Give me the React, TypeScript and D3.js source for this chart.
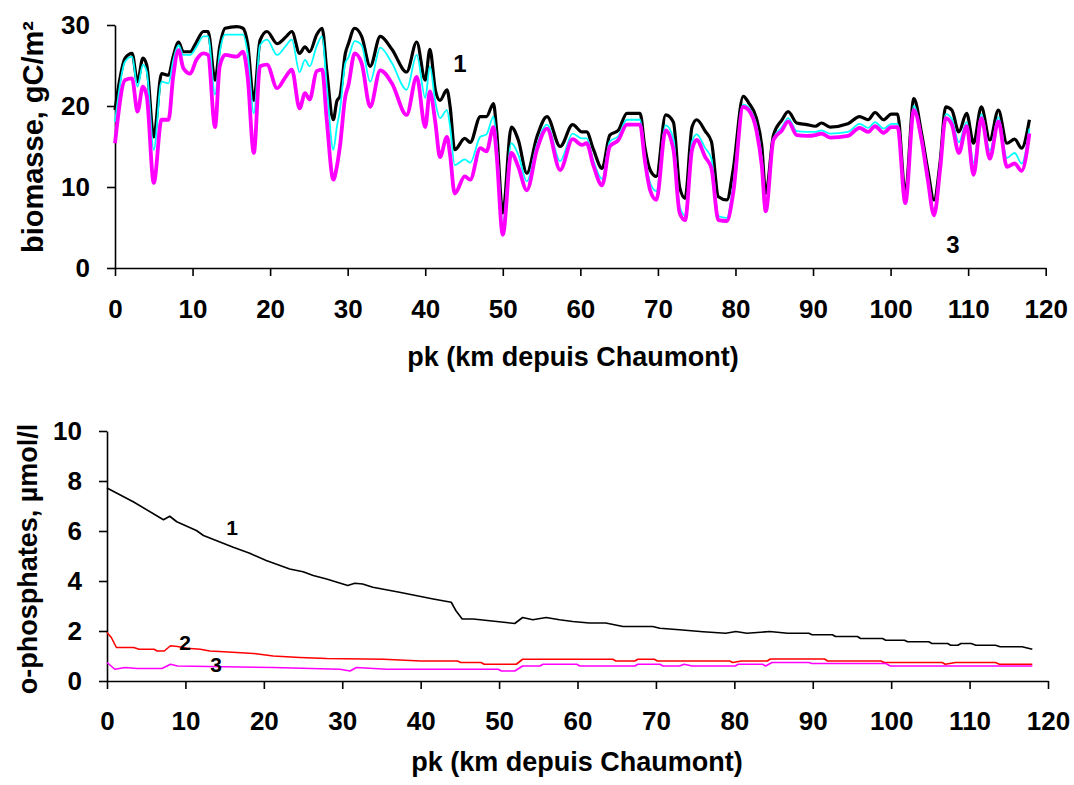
import React, { useEffect, useRef } from 'react';
import * as d3 from 'd3';

// ---------- Top chart: biomasse (gC/m²) along pk ----------
const topKm = [
  0, 1.3, 2.2, 2.9, 3.6, 4.1, 5.0, 6.0, 6.9, 7.5,
  8.2, 8.8, 9.7, 10.5, 11.4, 12.0, 12.9, 13.5, 14.2, 15.7,
  16.5, 17.1, 17.9, 18.7, 19.6, 20.9, 22.0, 22.8, 23.8, 24.5,
  25.1, 26.0, 26.7, 27.3, 28.15, 28.6, 29.0, 29.7, 30.1, 30.9,
  31.8, 32.9, 34.2, 35.7, 37.6, 38.9, 40.0, 40.6, 41.3, 41.9,
  42.8, 43.2, 43.8, 45.1, 45.8, 47.1, 47.9, 48.8, 49.2, 50.0,
  51.1, 52.0, 53.1, 54.4, 55.7, 57.4, 59.0, 60.2, 60.8, 61.7,
  62.8, 63.8, 64.9, 66.0, 67.7, 68.3, 69.0, 69.8, 71.0, 72.0,
  72.8, 73.5, 74.4, 75.0, 76.1, 76.9, 77.8, 78.9, 79.7, 81.0,
  81.7, 82.7, 83.4, 83.9, 84.9, 86.0, 86.8, 87.9, 89.2, 90.3,
  91.1, 92.2, 94.5, 96.0, 97.1, 98.0, 99.1, 100.1, 100.9, 101.9,
  103.0, 104.0, 104.8, 105.6, 106.4, 107.1, 107.9, 108.8, 109.8, 110.7,
  111.7, 112.8, 113.9, 115.0, 116.0, 116.9, 117.9,
];
const topBlack = [
  19.5, 25.9, 26.5, 23.0, 25.9, 25.0, 16.2, 24.0, 23.8, 26.1,
  27.9, 26.7, 26.7, 27.9, 29.2, 29.2, 23.2, 27.3, 29.6, 29.8,
  29.6, 27.7, 20.7, 28.1, 29.2, 27.7, 28.5, 29.2, 26.5, 27.3,
  26.7, 28.8, 29.6, 24.4, 18.3, 20.6, 21.2, 26.5, 27.7, 29.6,
  28.6, 24.9, 28.6, 27.0, 24.2, 27.9, 23.2, 27.0, 22.0, 20.7,
  22.0, 20.0, 14.6, 16.0, 15.5, 18.7, 18.7, 20.3, 17.0, 6.8,
  17.4, 15.8, 11.7, 16.2, 18.7, 15.0, 17.7, 16.8, 16.8, 14.6,
  12.3, 16.4, 17.0, 19.1, 19.1, 15.0, 12.1, 11.3, 18.9, 18.0,
  10.0, 8.6, 17.4, 18.3, 16.9, 15.6, 8.8, 8.4, 12.1, 21.2,
  20.4, 18.5, 15.0, 9.2, 16.4, 18.3, 19.3, 17.9, 17.7, 17.5,
  17.9, 17.4, 17.8, 18.7, 18.3, 19.2, 18.3, 19.0, 19.0, 9.2,
  20.9, 16.6, 12.1, 8.4, 13.2, 19.9, 19.5, 16.8, 19.1, 15.4,
  19.9, 15.8, 19.5, 15.4, 15.9, 14.8, 18.3,
];
const topCyan = [
  18.0, 25.5, 26.1, 22.4, 25.1, 24.2, 14.6, 23.0, 22.8, 25.6,
  27.5, 26.3, 26.3, 27.3, 28.6, 28.6, 21.4, 26.5, 28.8, 28.8,
  28.8, 26.5, 19.1, 27.5, 28.2, 26.3, 27.4, 28.2, 24.2, 25.7,
  24.9, 27.4, 28.6, 22.5, 14.6, 17.4, 19.5, 25.3, 26.0, 28.0,
  27.5, 23.0, 27.2, 25.3, 22.0, 26.3, 21.0, 24.9, 20.5, 18.5,
  19.5, 17.5, 12.7, 13.4, 13.0, 16.2, 16.5, 18.7, 15.5, 5.5,
  15.4, 14.0, 10.7, 15.2, 17.7, 13.2, 16.6, 16.0, 16.0, 13.2,
  11.0, 15.6, 16.3, 18.3, 18.3, 14.0, 10.5, 9.5, 17.6, 16.0,
  7.6, 6.5, 15.6, 16.5, 14.8, 13.5, 6.4, 6.2, 10.2, 20.2,
  19.8, 17.6, 13.5, 7.5, 16.0, 17.4, 18.5, 16.9, 16.8, 16.8,
  17.0, 16.6, 16.8, 17.8, 17.3, 18.0, 17.2, 17.8, 17.8, 8.3,
  20.0, 16.0, 11.5, 7.0, 12.7, 19.0, 18.4, 15.5, 18.0, 13.0,
  19.0, 14.5, 18.6, 13.6, 14.2, 12.9, 17.2,
];
const topMagenta = [
  15.4, 23.2, 23.4, 19.3, 22.4, 21.2, 10.5, 18.3, 18.3, 23.6,
  26.9, 24.7, 24.0, 25.7, 26.5, 26.3, 17.4, 24.9, 26.3, 26.1,
  26.7, 23.6, 14.2, 24.9, 25.1, 22.2, 23.6, 24.5, 19.7, 21.6,
  20.8, 24.3, 24.5, 18.3, 10.9, 12.5, 15.0, 21.2, 22.6, 26.5,
  25.3, 19.9, 24.4, 22.8, 18.9, 23.6, 17.4, 21.8, 18.0, 13.7,
  16.2, 14.0, 9.2, 11.3, 10.9, 14.8, 14.4, 17.4, 14.0, 4.1,
  14.2, 12.5, 9.6, 14.6, 17.2, 12.1, 15.9, 15.2, 15.4, 12.6,
  10.2, 15.0, 15.8, 17.7, 17.7, 13.4, 9.6, 8.4, 17.0, 14.6,
  6.8, 5.9, 14.6, 15.8, 13.7, 12.3, 5.9, 5.8, 9.2, 19.9,
  19.5, 17.0, 12.6, 7.0, 15.8, 17.0, 18.1, 16.4, 16.3, 16.4,
  16.6, 16.1, 16.3, 17.3, 16.8, 17.5, 16.7, 17.4, 17.4, 8.0,
  19.5, 15.8, 10.9, 6.5, 12.3, 18.5, 17.7, 14.2, 17.5, 11.5,
  18.5, 13.5, 18.1, 12.5, 12.9, 12.0, 16.6,
];

// ---------- Bottom chart: o-phosphates (µmol/l) along pk ----------
const botKmBlack = [
  0, 3.4, 7.2, 8.0, 8.9, 11.4, 12.3, 16.1, 18.2, 20.3,
  23.3, 25.0, 26.3, 28.0, 30.7, 31.6, 32.6, 33.9, 37.3, 41.6,
  43.9, 44.5, 45.3, 46.7, 48.8, 50.9, 52.0, 53.0, 54.3, 56.0,
  57.7, 59.4, 61.5, 63.6, 65.8, 69.6, 70.5, 73.0, 76.0, 78.9,
  80.2, 81.6, 84.5, 86.8, 89.5, 89.9, 92.5, 92.9, 95.7, 96.1,
  98.9, 99.3, 101.7, 102.1, 104.8, 105.2, 107.2, 107.6, 108.5, 108.9,
  110.2, 110.8, 113.3, 113.9, 116.7, 118.0,
];
const botBlack = [
  7.72, 7.16, 6.45, 6.59, 6.37, 6.02, 5.82, 5.35, 5.11, 4.82,
  4.48, 4.37, 4.22, 4.08, 3.82, 3.91, 3.88, 3.75, 3.55, 3.28,
  3.15, 2.81, 2.48, 2.48, 2.41, 2.34, 2.30, 2.54, 2.45, 2.54,
  2.45, 2.38, 2.32, 2.32, 2.18, 2.18, 2.11, 2.05, 1.97, 1.91,
  1.98, 1.91, 1.98, 1.91, 1.91, 1.85, 1.85, 1.78, 1.78, 1.70,
  1.70, 1.63, 1.63, 1.57, 1.57, 1.50, 1.50, 1.43, 1.43, 1.50,
  1.50, 1.43, 1.43, 1.37, 1.37, 1.27,
];
const botKmRed = [
  0, 0.55, 1.2, 3.4, 4.1, 6.0, 6.4, 7.3, 8.1, 9.0,
  10.2, 11.9, 13.1, 14.9, 18.7, 21.2, 24.6, 28.0, 35.3, 40.0,
  44.7, 45.1, 47.7, 48.1, 52.2, 53.0, 64.5, 64.9, 67.3, 67.7,
  69.8, 70.2, 79.4, 79.8, 80.9, 84.2, 84.6, 91.5, 91.9, 98.7,
  99.1, 106.5, 106.9, 108.2, 113.3, 113.8, 118.0,
];
const botRed = [
  1.94, 1.74, 1.34, 1.34, 1.27, 1.27, 1.20, 1.20, 1.41, 1.38,
  1.31, 1.27, 1.20, 1.17, 1.10, 1.00, 0.94, 0.90, 0.87, 0.80,
  0.80, 0.74, 0.74, 0.67, 0.67, 0.87, 0.87, 0.80, 0.80, 0.87,
  0.87, 0.80, 0.80, 0.74, 0.80, 0.80, 0.88, 0.88, 0.80, 0.80,
  0.74, 0.74, 0.67, 0.74, 0.74, 0.67, 0.67,
];
const botKmMag = [
  0, 1.0, 2.3, 3.8, 7.0, 8.1, 9.0, 21.2, 29.7, 31.0,
  31.8, 35.7, 49.9, 50.3, 52.0, 53.0, 55.2, 55.6, 59.9, 60.3,
  67.3, 67.7, 70.5, 70.9, 73.0, 73.6, 74.6, 80.1, 80.5, 83.6,
  84.0, 84.8, 89.5, 89.9, 99.3, 99.9, 118.0,
];
const botMag = [
  0.74, 0.47, 0.54, 0.50, 0.50, 0.67, 0.60, 0.54, 0.47, 0.40,
  0.54, 0.47, 0.47, 0.40, 0.40, 0.60, 0.60, 0.67, 0.67, 0.60,
  0.60, 0.67, 0.67, 0.60, 0.60, 0.67, 0.60, 0.60, 0.67, 0.67,
  0.60, 0.74, 0.74, 0.70, 0.70, 0.60, 0.60,
];

const xTicks = [0, 10, 20, 30, 40, 50, 60, 70, 80, 90, 100, 110, 120];
const topYTicks = [0, 10, 20, 30];
const botYTicks = [0, 2, 4, 6, 8, 10];

const xTitle = 'pk (km depuis Chaumont)';
const topYTitle = 'biomasse, gC/m²';
const botYTitle = 'o-phosphates, µmol/l';

const FONT = "'Liberation Sans', Arial, Helvetica, sans-serif";

export default function App() {
  const ref = useRef<SVGSVGElement | null>(null);

  useEffect(() => {
    const svg = d3.select(ref.current);
    svg.selectAll('*').remove();

    const drawAxes = (
      g: d3.Selection<SVGGElement, unknown, null, undefined>,
      x: d3.ScaleLinear<number, number>,
      y: d3.ScaleLinear<number, number>,
      yTicks: number[],
      xPad: number,
    ) => {
      const xa = g.append('g').attr('transform', `translate(0,${y(0)})`)
        .call(d3.axisBottom(x).tickValues(xTicks).tickSize(8).tickSizeOuter(0).tickPadding(xPad).tickFormat(d3.format('d')));
      const ya = g.append('g').attr('transform', `translate(${x(0)},0)`)
        .call(d3.axisLeft(y).tickValues(yTicks).tickSize(8).tickSizeOuter(0).tickPadding(17).tickFormat(d3.format('d')));
      [xa, ya].forEach((a) => {
        a.selectAll('path').attr('stroke', '#000').attr('stroke-width', 1.6);
        a.selectAll('line').attr('stroke', '#000').attr('stroke-width', 1.6);
        a.selectAll('text').attr('fill', '#000').attr('font-family', FONT).attr('font-weight', 'bold').attr('font-size', 26);
      });
    };

    // ---- top chart ----
    const xt = d3.scaleLinear().domain([0, 120]).range([115, 1045.7]);
    const yt = d3.scaleLinear().domain([0, 30]).range([268, 25]);
    const gt = svg.append('g');
    drawAxes(gt, xt, yt, topYTicks, 24);

    const topLine = (vals: number[]) =>
      d3.line<number>().curve(d3.curveMonotoneX).x((_, i) => xt(topKm[i])).y((d) => yt(d))(vals);

    gt.append('path').attr('d', topLine(topBlack)).attr('fill', 'none').attr('stroke', '#000')
      .attr('stroke-width', 3.2).attr('stroke-linejoin', 'round');
    gt.append('path').attr('d', topLine(topCyan)).attr('fill', 'none').attr('stroke', '#00FFFF')
      .attr('stroke-width', 1.8).attr('stroke-linejoin', 'round');
    gt.append('path').attr('d', topLine(topMagenta)).attr('fill', 'none').attr('stroke', '#FF00FF')
      .attr('stroke-width', 3.8).attr('stroke-linejoin', 'round');

    [{ x: 460, y: 72, t: '1' }, { x: 953, y: 253, t: '3' }].forEach((l) => {
      gt.append('text').attr('x', l.x).attr('y', l.y).attr('text-anchor', 'middle')
        .attr('font-family', FONT).attr('font-weight', 'bold').attr('font-size', 24).text(l.t);
    });

    gt.append('text').attr('class', 'title').attr('x', 573).attr('y', 366).attr('text-anchor', 'middle')
      .attr('font-size', 27).text(xTitle);
    gt.append('text').attr('class', 'title').attr('transform', 'translate(43,137) rotate(-90)')
      .attr('text-anchor', 'middle').attr('font-size', 29).text(topYTitle);

    // ---- bottom chart ----
    const xb = d3.scaleLinear().domain([0, 120]).range([107, 1048]);
    const yb = d3.scaleLinear().domain([0, 10]).range([681, 431]);
    const gb = svg.append('g');
    drawAxes(gb, xb, yb, botYTicks, 23);

    const botLine = (km: number[], vals: number[]) =>
      d3.line<number>().x((_, i) => xb(km[i])).y((d) => yb(d))(vals);

    gb.append('path').attr('d', botLine(botKmBlack, botBlack)).attr('fill', 'none').attr('stroke', '#000')
      .attr('stroke-width', 1.6).attr('stroke-linejoin', 'round');
    gb.append('path').attr('d', botLine(botKmRed, botRed)).attr('fill', 'none').attr('stroke', '#FF0000')
      .attr('stroke-width', 1.6).attr('stroke-linejoin', 'round');
    gb.append('path').attr('d', botLine(botKmMag, botMag)).attr('fill', 'none').attr('stroke', '#FF00FF')
      .attr('stroke-width', 1.6).attr('stroke-linejoin', 'round');

    [
      { x: 232, y: 535, t: '1' },
      { x: 185, y: 650, t: '2' },
      { x: 216, y: 672, t: '3' },
    ].forEach((l) => {
      gb.append('text').attr('x', l.x).attr('y', l.y).attr('text-anchor', 'middle')
        .attr('font-family', FONT).attr('font-weight', 'bold').attr('font-size', 21).text(l.t);
    });

    gb.append('text').attr('class', 'title').attr('x', 577).attr('y', 771).attr('text-anchor', 'middle')
      .attr('font-size', 27).text(xTitle);
    gb.append('text').attr('class', 'title').attr('transform', 'translate(37,559) rotate(-90)')
      .attr('text-anchor', 'middle').attr('font-size', 27).text(botYTitle);

    svg.selectAll('text.title').attr('font-family', FONT).attr('font-weight', 'bold').attr('fill', '#000');
  }, []);

  return (
    <svg
      ref={ref}
      width={1074}
      height={785}
      style={{ position: 'absolute', left: 0, top: 0, background: '#fff' }}
    />
  );
}
